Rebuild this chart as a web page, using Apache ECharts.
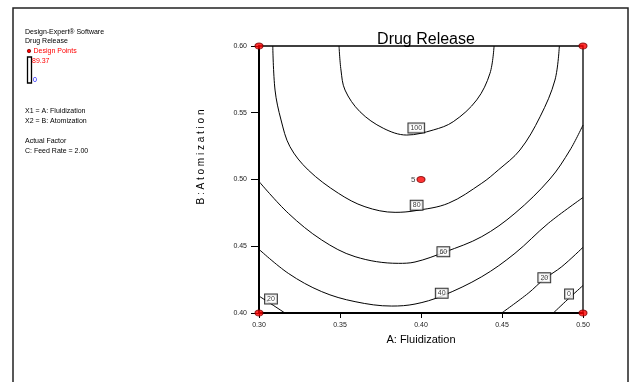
<!DOCTYPE html>
<html><head><meta charset="utf-8">
<script src="https://cdn.jsdelivr.net/npm/echarts@6/dist/echarts.min.js"></script>
<style>html,body{margin:0;padding:0;background:#fff}#c{width:633px;height:382px}</style>
</head><body><div id="c"></div>
<script>
// Contour lines: [A: Fluidization, B: Atomization]
const contour100 = [[0.3494,0.6000],[0.3506,0.5820],[0.3531,0.5670],[0.3623,0.5508],[0.3767,0.5384],[0.3912,0.5333],[0.4076,0.5371],[0.4199,0.5433],[0.4344,0.5596],[0.4426,0.5796],[0.4451,0.6000]];
const contour80 = [[0.3085,0.6000],[0.3099,0.5670],[0.3136,0.5446],[0.3191,0.5246],[0.3304,0.5071],[0.3490,0.4897],[0.3654,0.4796],[0.3840,0.4754],[0.3963,0.4766],[0.4169,0.4822],[0.4375,0.4972],[0.4477,0.5071],[0.4611,0.5221],[0.4735,0.5470],[0.4827,0.5745],[0.4854,0.6000]];
const contour60 = [[0.3000,0.4985],[0.3181,0.4747],[0.3387,0.4547],[0.3593,0.4422],[0.3860,0.4372],[0.3963,0.4382],[0.4148,0.4457],[0.4375,0.4572],[0.4580,0.4747],[0.4796,0.5004],[0.4920,0.5221],[0.5000,0.5408]];
const contour40 = [[0.3000,0.4477],[0.3181,0.4297],[0.3387,0.4160],[0.3593,0.4085],[0.3819,0.4052],[0.3963,0.4067],[0.4128,0.4127],[0.4375,0.4272],[0.4580,0.4447],[0.4786,0.4672],[0.5000,0.4865]];
const contour20Left = [[0.3000,0.4127],[0.3080,0.4064],[0.3160,0.4000]];
const contour20Right = [[0.4498,0.4000],[0.4662,0.4148],[0.4761,0.4255],[0.4869,0.4347],[0.5000,0.4492]];
const contour0 = [[0.4817,0.4000],[0.4905,0.4101],[0.5000,0.4206]];

// Contour labels
const labelText = ['100','80','60','40','20','20','0'];
const labelX = [0.3971,0.3973,0.4138,0.4128,0.3074,0.4761,0.4914];
const labelY = [0.5386,0.4807,0.4459,0.4148,0.4105,0.4264,0.4142];

// Design points
const designX = [0.30,0.30,0.50,0.50,0.40];
const designY = [0.40,0.60,0.40,0.60,0.50];
const designLabel = ['','','','','5'];

const NARROW = "'Liberation Sans Narrow','Arial Narrow','Liberation Sans',Arial,sans-serif";
const SANS = "'Liberation Sans',Arial,sans-serif";

const chart = echarts.init(document.getElementById('c'), null, {renderer:'canvas'});

const contourSets = [contour100, contour80, contour60, contour40, contour20Left, contour20Right, contour0];
const lineSeries = contourSets.map(function(pts){
  return {type:'line', data:pts, smooth:0.35, symbol:'none', silent:true,
    lineStyle:{color:'#000', width:1}, z:2};
});

const leftTexts = [
  {t:'Design-Expert\u00ae Software', x:25, y:32, c:'#000'},
  {t:'Drug Release', x:25, y:41.5, c:'#000'},
  {t:'Design Points', x:33.5, y:51, c:'#ff0000'},
  {t:'89.37', x:32, y:61.5, c:'#ff0000'},
  {t:'0', x:33, y:80, c:'#0000ff'},
  {t:'X1 = A: Fluidization', x:25, y:111.5, c:'#000'},
  {t:'X2 = B: Atomization', x:25, y:121.5, c:'#000'},
  {t:'Actual Factor', x:25, y:141.5, c:'#000'},
  {t:'C: Feed Rate = 2.00', x:25, y:151.5, c:'#000'}
];

const graphics = [
  {type:'rect', shape:{x:13, y:8, width:615, height:390}, style:{fill:null, stroke:'#222', lineWidth:1.5}, silent:true, z:0},
  {type:'rect', shape:{x:27.5, y:57, width:4, height:26}, style:{fill:'#fff', stroke:'#000', lineWidth:1.3}, silent:true},
  {type:'circle', shape:{cx:29, cy:51, r:1.7}, style:{fill:'#ff0000', stroke:'#800000', lineWidth:0.8}, silent:true}
].concat(leftTexts.map(function(o){
  return {type:'text', x:o.x, y:o.y, silent:true,
    style:{text:o.t, fill:o.c, font:'7px ' + SANS, textVerticalAlign:'middle', textAlign:'left'}};
}));

const option = {
  backgroundColor:'#fff',
  animation:false,
  title:{text:'Drug Release', left:421, top:27, textAlign:'center',
    textStyle:{fontFamily:NARROW, fontSize:16, fontWeight:'normal', color:'#000'}},
  grid:{left:259, right:50, top:46, bottom:69, show:true, borderColor:'#000', borderWidth:1.3, backgroundColor:'transparent'},
  xAxis:{type:'value', min:0.30, max:0.50, interval:0.05,
    name:'A: Fluidization', nameLocation:'middle', nameGap:21,
    nameTextStyle:{fontFamily:NARROW, fontSize:11, color:'#000'},
    axisLine:{show:true, onZero:false, lineStyle:{color:'#000', width:2}},
    axisTick:{show:true, length:5, lineStyle:{color:'#000', width:1}},
    axisLabel:{margin:9, fontFamily:NARROW, fontSize:7, color:'#222',
      formatter:function(v){return v.toFixed(2);}, showMinLabel:true, showMaxLabel:true},
    splitLine:{show:false}},
  yAxis:{type:'value', min:0.40, max:0.60, interval:0.05,
    name:'B : A t o m i z a t i o n', nameLocation:'middle', nameGap:53, nameRotate:90,
    nameTextStyle:{fontFamily:SANS, fontSize:10, color:'#000', padding:[0,0,0,45]},
    axisLine:{show:true, onZero:false, lineStyle:{color:'#000', width:2}},
    axisTick:{show:true, length:8, lineStyle:{color:'#000', width:1}},
    axisLabel:{margin:12, fontFamily:NARROW, fontSize:7, color:'#222',
      formatter:function(v){return v.toFixed(2);}, showMinLabel:true, showMaxLabel:true},
    splitLine:{show:false}},
  graphic:graphics,
  series: lineSeries.concat([
    {type:'scatter', silent:true, symbolSize:0, z:5,
      data: labelText.map(function(t,i){return {value:[labelX[i], labelY[i]], name:t};}),
      label:{show:true, position:'inside', formatter:'{b}', fontFamily:NARROW, fontSize:7, color:'#000',
        backgroundColor:'#fff', borderColor:'#000', borderWidth:1, padding:[1,2,0,2], lineHeight:8}},
    {type:'scatter', silent:true, clip:false, z:6, symbol:'circle', symbolSize:[8,6],
      itemStyle:{color:'#ff0000', borderColor:'#7a0000', borderWidth:1},
      data: designX.map(function(x,i){return {value:[x, designY[i]], name:designLabel[i]};}),
      label:{show:true, position:'left', distance:1, formatter:'{b}', fontFamily:SANS, fontSize:8, color:'#000'}}
  ])
};
chart.setOption(option);
</script>
</body></html>
